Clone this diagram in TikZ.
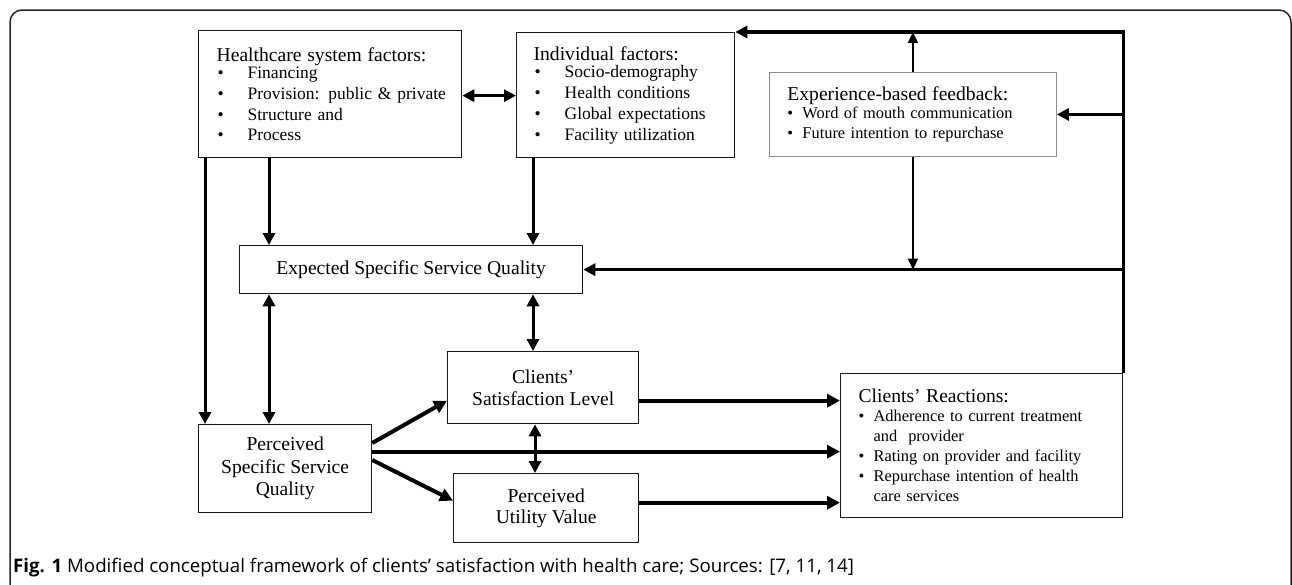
\documentclass[tikz,border=0pt]{standalone}
\usepackage{fontspec}
\setmainfont{Liberation Serif}
\newfontfamily\capfont{Open Sans}
\usepackage{tikz}
\usetikzlibrary{positioning, arrows.meta}
\tikzstyle{box} = [rectangle, draw=black!90, line width=1.3pt, inner sep=0pt, anchor=north west]
\tikzstyle{factorbox} = [box, align=left, inner xsep=18pt, font=\fontsize{17.5}{20.7}\selectfont]
\tikzstyle{feedbox} = [rectangle, draw=black!45, line width=0.9pt, inner sep=0pt, anchor=north west, align=left, inner xsep=18pt, font=\fontsize{16.4}{20}\selectfont]
\tikzstyle{midbox} = [box, align=center, font=\fontsize{19.6}{21.5}\selectfont]
\tikzstyle{arrow} = [line width=3pt, -{Triangle[length=12pt,width=12pt]}]
\tikzstyle{biarrow} = [line width=3pt, {Triangle[length=12pt,width=12pt]}-{Triangle[length=12pt,width=12pt]}]
\tikzstyle{heavyarrow} = [line width=4pt, -{Triangle[length=13pt,width=13pt]}]
\tikzstyle{thinarrow} = [line width=1.8pt, -{Triangle[length=11pt,width=10pt]}]
\newcommand{\ttl}[1]{{\fontsize{19.6}{21}\selectfont #1}}
\newcommand{\bigitm}[1]{\mbox{\makebox[31pt][l]{\hspace{1pt}\textbullet}#1}}
\newcommand{\smallitm}[1]{\mbox{\makebox[15pt][l]{\textbullet}#1}}

\begin{document}
\begin{tikzpicture}[x=1pt, y=-1pt]
		\useasboundingbox (0,0) rectangle (1292,584);
		\draw[black!85, line width=1.5pt, rounded corners=12pt] (10,590) -- (10,10) -- (1291,10) -- (1291,590);
		
		% Nodes
		\node (health) [factorbox, minimum width=263pt, minimum height=127pt, text width=227pt] at (198,30)
			{\ttl{Healthcare system factors:}\\[-3pt]
			\bigitm{Financing}\\ \bigitm{Provision: public \& private}\\ \bigitm{Structure and}\\ \bigitm{Process}};
		\node (indiv) [factorbox, minimum width=218pt, minimum height=125pt, text width=184pt, inner xsep=17pt] at (516,32)
			{\ttl{Individual factors:}\\[-3pt]
			\bigitm{Socio-demography}\\ \bigitm{Health conditions}\\ \bigitm{Global expectations}\\ \bigitm{Facility utilization}};
		\node (exper) [feedbox, minimum width=269pt, minimum height=84pt, text width=251pt] at (769,72)
			{\ttl{Experience-based feedback:}\\[-2pt]
			\smallitm{Word of mouth communication}\\ \smallitm{Future intention to repurchase}};
		\node (expect) [midbox, minimum width=343pt, minimum height=48pt] at (239,245) {Expected Specific Service Quality};
		\node (perc) [midbox, minimum width=173pt, minimum height=88pt, font=\fontsize{19.6}{22.5}\selectfont] at (198,424) {Perceived\\Specific Service\\Quality};
		\node (satis) [midbox, minimum width=191pt, minimum height=72pt] at (447,351) {Clients’\\Satisfaction Level};
		\node (util) [midbox, minimum width=185pt, minimum height=69pt] at (453,473) {Perceived\\Utility Value};
		\node (react) [factorbox, minimum width=264pt, minimum height=144pt, text width=246pt, font=\fontsize{16.4}{20}\selectfont] at (840,373)
			{\ttl{Clients’ Reactions:}\\[-1pt]
			\smallitm{Adherence to current treatment}\\ \hspace*{15pt}and~ provider\\ \smallitm{Rating on provider and facility}\\ \smallitm{Repurchase intention of health}\\ \hspace*{15pt}care services};
		\node (caption) [anchor=base west, font=\capfont\fontsize{18.7}{22}\selectfont, inner sep=0pt] at (13,572)
			{\textbf{Fig. 1} Modified conceptual framework of clients’ satisfaction with health care; Sources: [7, 11, 14]};
		
		% Feedback loop
		\coordinate (loopexp) at (react.north east |- exper.east);
		\coordinate (loopexpect) at (react.north east |- expect.east);
		\draw [line width=3.5pt, -{Triangle[length=12pt,width=12pt]}] (react.north east) -- (react.north east |- indiv.north east) -- (indiv.north east);
		\draw [arrow] (loopexp) -- (exper.east);
		\draw [arrow] (loopexpect) -- (expect.east);
		\draw [thinarrow] (exper.north) -- (exper.north |- indiv.north east);
		\draw [thinarrow] (exper.south) -- (exper.south |- expect.east);
		
		% Arrows
		\draw [biarrow] ([yshift=-1.5pt]health.east) -- ([yshift=-1.5pt]health.east -| indiv.west);
		\draw [arrow] ([xshift=71pt]health.south west) -- ([xshift=30pt]expect.north west);
		\draw [arrow] ([xshift=7pt]health.south west) -- ([xshift=7pt]perc.north west);
		\draw [arrow] ([xshift=17pt]indiv.south west) -- ([xshift=17pt]indiv.south west |- expect.north);
		\draw [biarrow] ([xshift=30pt]expect.south west) -- ([xshift=71pt]perc.north west);
		\draw [biarrow] ([xshift=86pt]satis.north west |- expect.south) -- ([xshift=86pt]satis.north west);
		\draw [biarrow] ([xshift=88pt]satis.south west) -- ([xshift=88pt]satis.south west |- util.north);
		\draw [heavyarrow] ([yshift=-19pt]perc.north east) -- ([yshift=-13pt]satis.west);
		\draw [heavyarrow] ([yshift=-36pt]perc.north east) -- ([yshift=7.5pt]util.west);
		\draw [heavyarrow] ([yshift=17pt]perc.east) -- ([yshift=17pt]perc.east -| react.west);
		\draw [heavyarrow] ([yshift=-13pt]satis.east) -- ([yshift=-13pt]satis.east -| react.west);
		\draw [heavyarrow] ([yshift=5.5pt]util.east) -- ([yshift=5.5pt]util.east -| react.west);
		
	\end{tikzpicture}
\end{document}
